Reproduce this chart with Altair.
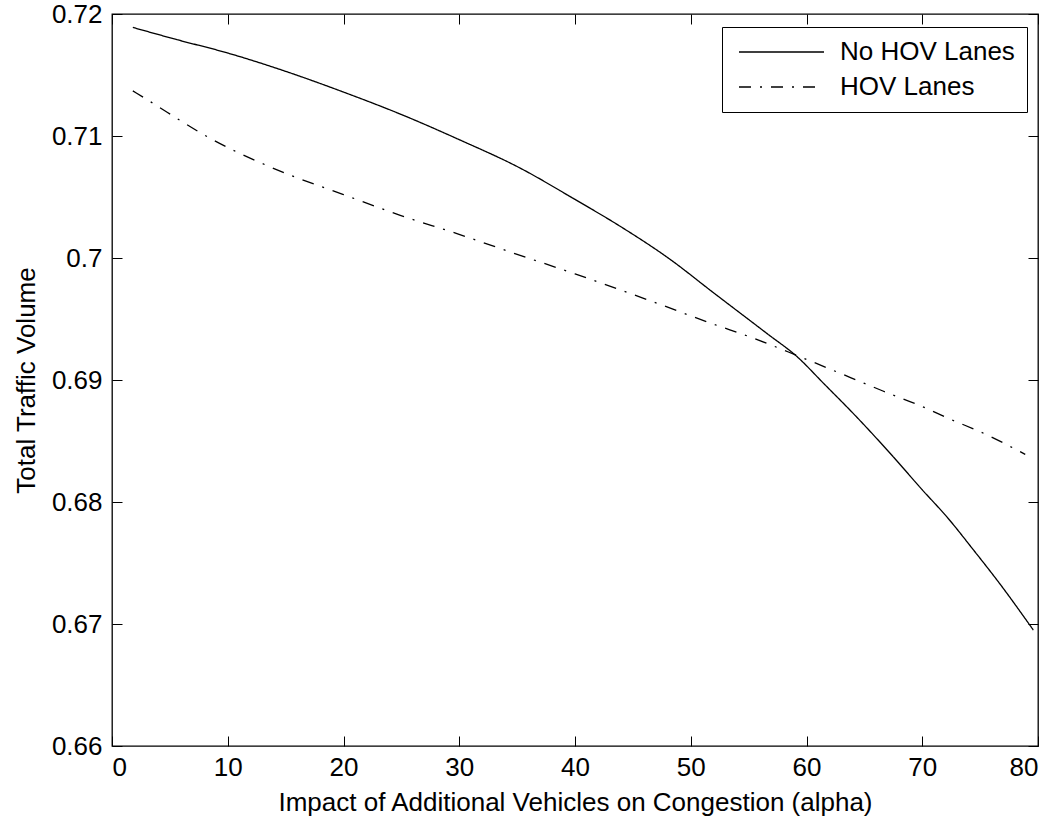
import altair as alt
import pandas as pd

# ---- data ----
no_hov_alpha = [1.8, 5.6, 10, 15, 20, 24.9, 30, 35.2, 40, 43.9, 48.2, 51.9, 56.6, 59.2,
                61.5, 64.3, 67.5, 70, 72.2, 74.4, 76.7, 79.6]
no_hov_volume = [0.7189, 0.7179, 0.7168, 0.7153, 0.7136, 0.7118, 0.7097, 0.7074, 0.7048,
                 0.7026, 0.6999, 0.6972, 0.6938, 0.6919, 0.6897, 0.6870, 0.6837, 0.6810,
                 0.6787, 0.6761, 0.6733, 0.6695]
hov_alpha = [1.8, 3.0, 8.5, 15.1, 20, 24.9, 29.8, 35, 40, 46.2, 51.9, 55.5, 59.2, 63.8,
             66.6, 69.8, 72.4, 75.6, 78.9]
hov_volume = [0.7137, 0.7130, 0.7098, 0.7069, 0.7052, 0.7035, 0.7020, 0.7003, 0.6987,
              0.6966, 0.6946, 0.6934, 0.6920, 0.6902, 0.6891, 0.6879, 0.6868, 0.6855, 0.6839]
series_names = ["No HOV Lanes", "HOV Lanes"]
x_ticks = [0, 10, 20, 30, 40, 50, 60, 70, 80]
y_ticks = [0.66, 0.67, 0.68, 0.69, 0.70, 0.71, 0.72]

rows = []
for a, v in zip(no_hov_alpha, no_hov_volume):
    rows.append({"alpha": a, "volume": v, "series": series_names[0]})
for a, v in zip(hov_alpha, hov_volume):
    rows.append({"alpha": a, "volume": v, "series": series_names[1]})
df = pd.DataFrame(rows)

FONT = "Liberation Sans"
FS = 26
W, H = 926, 732

xscale = alt.Scale(domain=[0, 80], nice=False, zero=False)
yscale = alt.Scale(domain=[0.66, 0.72], nice=False, zero=False)

common_axis = dict(domain=False, tickSize=10, tickColor="black", tickWidth=1,
                   offset=-10, labelFont=FONT, labelFontSize=FS, labelColor="black",
                   titleFont=FONT, titleFontSize=FS, titleColor="black",
                   titleFontWeight="normal", grid=False)

lines = alt.Chart(df).mark_line(color="black", strokeWidth=1.3, interpolate="monotone").encode(
    x=alt.X("alpha:Q", scale=xscale,
            axis=alt.Axis(orient="bottom", values=x_ticks, format="d",
                          labelPadding=8, titlePadding=9,
                          title="Impact of Additional Vehicles on Congestion (alpha)",
                          **common_axis)),
    y=alt.Y("volume:Q", scale=yscale,
            axis=alt.Axis(orient="left", values=y_ticks, format="~g",
                          labelPadding=10, titlePadding=12,
                          title="Total Traffic Volume", **common_axis)),
    strokeDash=alt.StrokeDash(
        "series:N",
        scale=alt.Scale(domain=series_names, range=[[1, 0], [12, 9, 2, 9]]),
        sort=series_names,
        legend=alt.Legend(title=None, orient="none", legendX=610, legendY=13,
                          strokeColor="black", fillColor="white", padding=12,
                          symbolType="stroke", symbolSize=85 * 85,
                          symbolStrokeColor="black", symbolStrokeWidth=1.3,
                          clipHeight=26, rowPadding=9, labelOffset=15,
                          labelLimit=0,
                          labelFont=FONT, labelFontSize=FS, labelColor="black",
                          symbolOffset=4),
    ),
)

mirror = alt.Chart(df).mark_point(opacity=0).encode(
    x=alt.X("alpha:Q", scale=xscale,
            axis=alt.Axis(orient="top", values=x_ticks, labels=False, title=None,
                          **common_axis)),
    y=alt.Y("volume:Q", scale=yscale,
            axis=alt.Axis(orient="right", values=y_ticks, labels=False, title=None,
                          **common_axis)),
)

chart = alt.layer(lines, mirror).resolve_axis(x="independent", y="independent").properties(
    width=W, height=H,
    autosize="none",
    padding={"left": 112, "top": 14, "right": 24, "bottom": 79},
    background="white",
).configure_view(stroke="black", strokeWidth=1.3)

chart.save("out.html", embed_options={"renderer": "svg", "actions": False})
